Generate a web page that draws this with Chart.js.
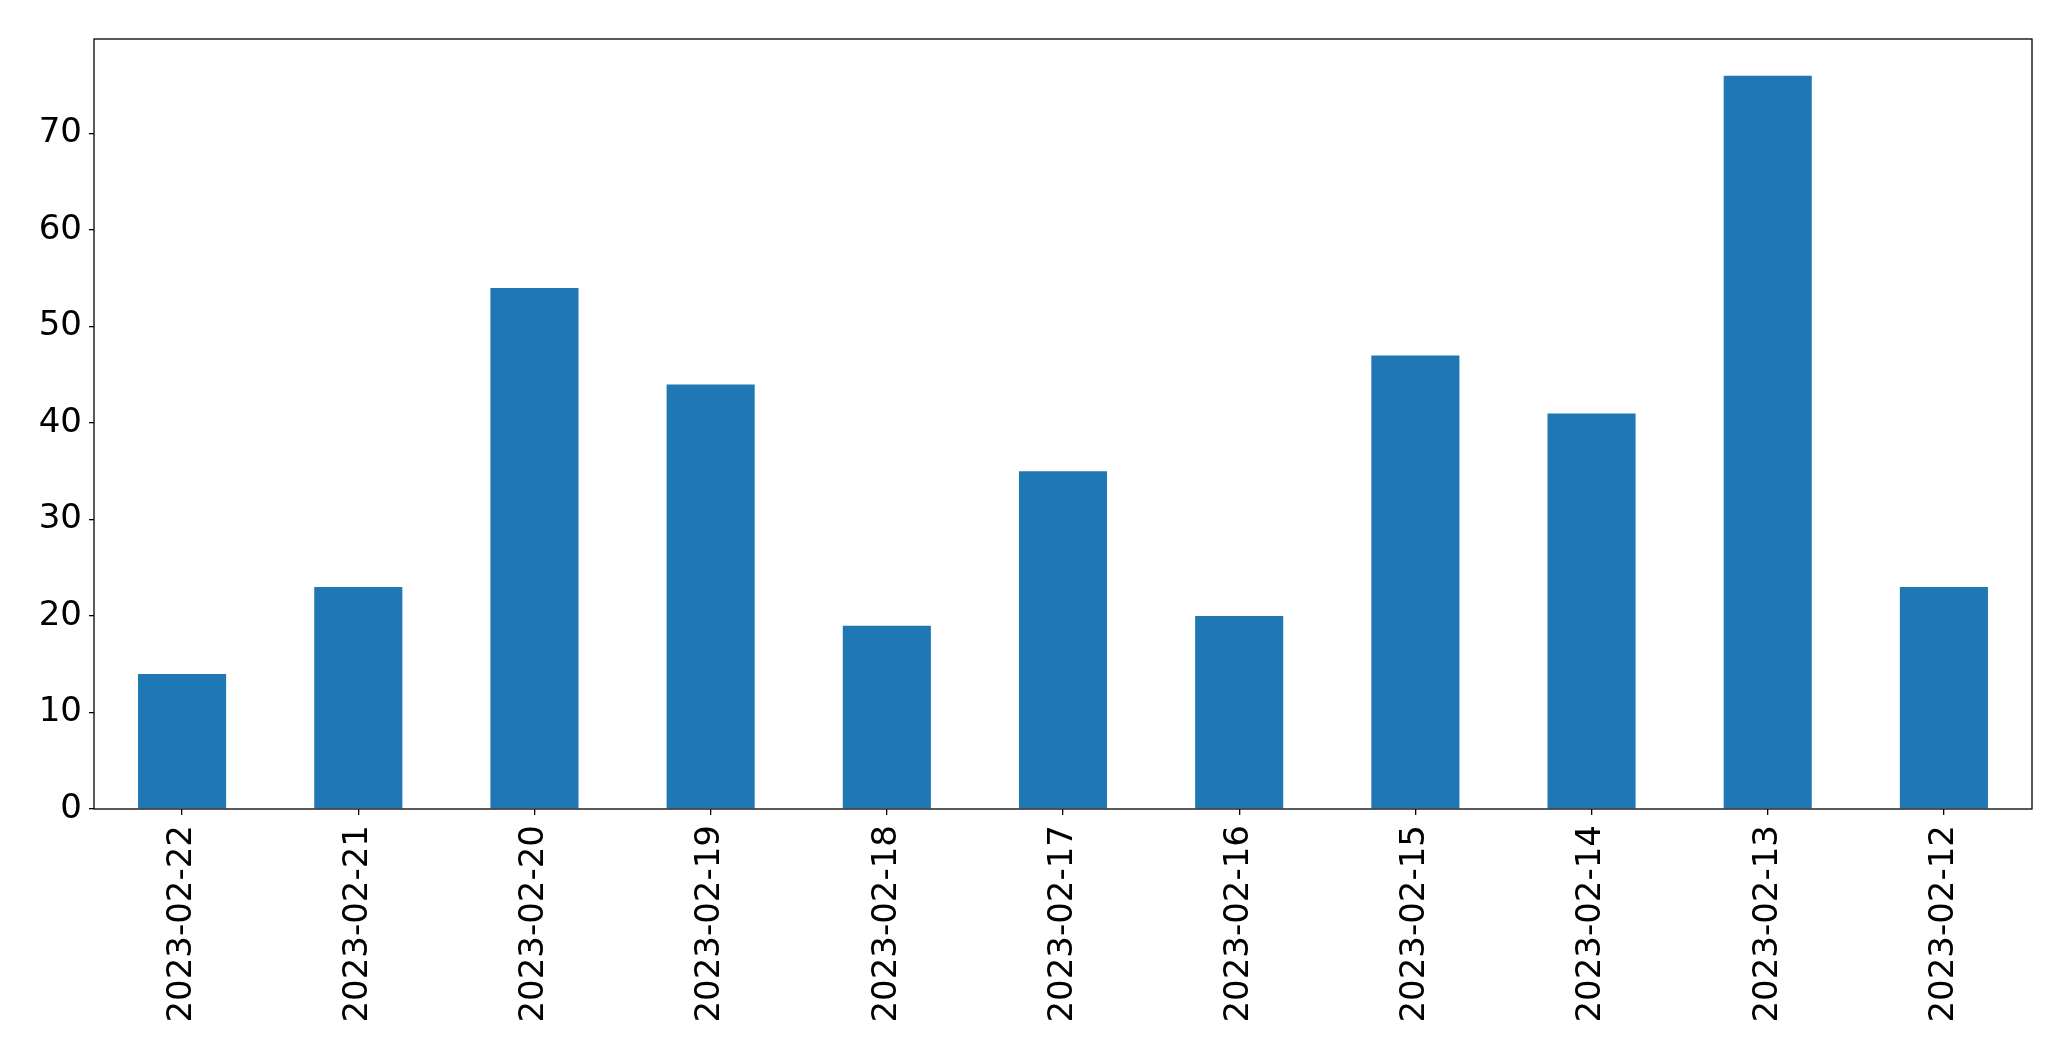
<!DOCTYPE html>
<html>
<head>
<meta charset="utf-8">
<script src="https://cdn.jsdelivr.net/npm/chart.js@4/dist/chart.umd.min.js"></script>
<style>
  html, body { margin: 0; padding: 0; background: #fff; }
  #wrap { width: 2071px; height: 1061px; }
</style>
</head>
<body>
<div id="wrap"><canvas id="c" width="2071" height="1061"></canvas></div>
<script>
const categories = ["2023-02-22","2023-02-21","2023-02-20","2023-02-19","2023-02-18","2023-02-17","2023-02-16","2023-02-15","2023-02-14","2023-02-13","2023-02-12"];
const values = [14, 23, 54, 44, 19, 35, 20, 47, 41, 76, 23];
const yTicks = [0, 10, 20, 30, 40, 50, 60, 70];
const yMax = 79.8;

const FONT = { family: "'DejaVu Sans', sans-serif", size: 34 };

const framePlugin = {
  id: 'frame',
  afterDraw(chart) {
    const a = chart.chartArea;
    const ctx = chart.ctx;
    ctx.save();
    ctx.strokeStyle = '#000';
    ctx.lineWidth = 1.3;
    ctx.strokeRect(a.left, a.top, a.right - a.left, a.bottom - a.top);
    ctx.restore();
  }
};

new Chart(document.getElementById('c'), {
  type: 'bar',
  data: {
    labels: categories,
    datasets: [{
      data: values,
      backgroundColor: '#1f77b4',
      borderWidth: 0,
      barPercentage: 0.5,
      categoryPercentage: 1.0
    }]
  },
  options: {
    responsive: false,
    devicePixelRatio: 1,
    animation: false,
    layout: { padding: { top: 39, right: 39, left: 0, bottom: 0 } },
    plugins: { legend: { display: false }, tooltip: { enabled: false } },
    scales: {
      x: {
        grid: { display: true, drawOnChartArea: false, drawTicks: true, tickLength: 6, color: '#000', lineWidth: 1.3, offset: false },
        border: { display: false },
        ticks: { color: '#000', font: FONT, minRotation: 90, maxRotation: 90, padding: 10, autoSkip: false },
        afterFit(scale) { scale.height = 252; }
      },
      y: {
        min: 0,
        max: yMax,
        grid: { display: true, drawOnChartArea: false, drawTicks: true, tickLength: 5, color: '#000', lineWidth: 1.3 },
        border: { display: false },
        afterBuildTicks(scale) { scale.ticks = yTicks.map(v => ({ value: v })); },
        ticks: { color: '#000', font: FONT, padding: 7 },
        afterFit(scale) { scale.width = 94; }
      }
    }
  },
  plugins: [framePlugin]
});
</script>
</body>
</html>
